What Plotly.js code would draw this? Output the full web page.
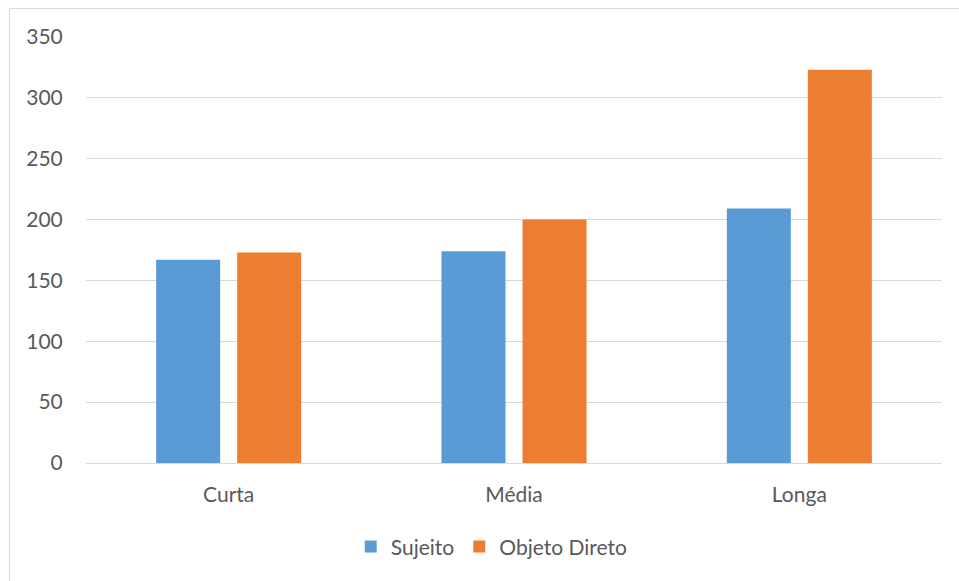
<!DOCTYPE html>
<html>
<head>
<meta charset="utf-8">
<script src="https://cdn.plot.ly/plotly-3.0.1.min.js"></script>
<style>
  html, body { margin: 0; padding: 0; background: #fff; }
  #wrap { position: relative; width: 959px; height: 581px; overflow: hidden; }
  #chart { width: 959px; height: 581px; }
  #frame { position: absolute; left: 9px; top: 8px; width: 980px; height: 600px;
           border: 1px solid #d9d9d9; pointer-events: none; }
</style>
</head>
<body>
<div id="wrap">
  <div id="chart"></div>
  <div id="frame"></div>
</div>
<script>
// Categories (phrase length) and counts per syntactic function
const categories = ["Curta", "Média", "Longa"];
const sujeito = [167, 174, 209];
const objetoDireto = [173, 200, 323];
const yTicks = [0, 50, 100, 150, 200, 250, 300, 350];

const fontFamily = "Lato, 'Open Sans', sans-serif";
const textColor = "#595959";
const fontSize = 21;

const traces = [
  { type: "bar", name: "Sujeito", x: categories, y: sujeito,
    marker: { color: "#5b9bd5" }, hoverinfo: "x+y+name" },
  { type: "bar", name: "Objeto Direto", x: categories, y: objetoDireto,
    marker: { color: "#ed7d31" }, hoverinfo: "x+y+name" }
];

const layout = {
  width: 959, height: 581,
  margin: { l: 86, r: 17, t: 37, b: 118 },
  paper_bgcolor: "#ffffff", plot_bgcolor: "#ffffff",
  barmode: "group", bargap: 0.432, bargroupgap: 0.21,
  font: { family: fontFamily, size: fontSize, color: textColor },
  xaxis: {
    type: "category", showgrid: false, zeroline: false, showline: false,
    ticks: "outside", ticklen: 0, ticklabelstandoff: 13,
    tickfont: { family: fontFamily, size: fontSize, color: textColor }
  },
  yaxis: {
    range: [0, 350], tickvals: yTicks, ticktext: yTicks.map(String),
    showgrid: true, gridcolor: "#d9d9d9", gridwidth: 1,
    zeroline: true, zerolinecolor: "#d9d9d9", zerolinewidth: 1,
    showline: false, ticks: "outside", ticklen: 0, ticklabelstandoff: 18,
    tickfont: { family: fontFamily, size: fontSize, color: textColor }
  },
  showlegend: true,
  legend: {
    orientation: "h", x: 0.474, xanchor: "center", y: -0.197, yanchor: "middle",
    font: { family: fontFamily, size: fontSize, color: textColor },
    itemwidth: 30, traceorder: "normal"
  }
};

Plotly.newPlot("chart", traces, layout, { staticPlot: true, displayModeBar: false });
</script>
</body>
</html>
